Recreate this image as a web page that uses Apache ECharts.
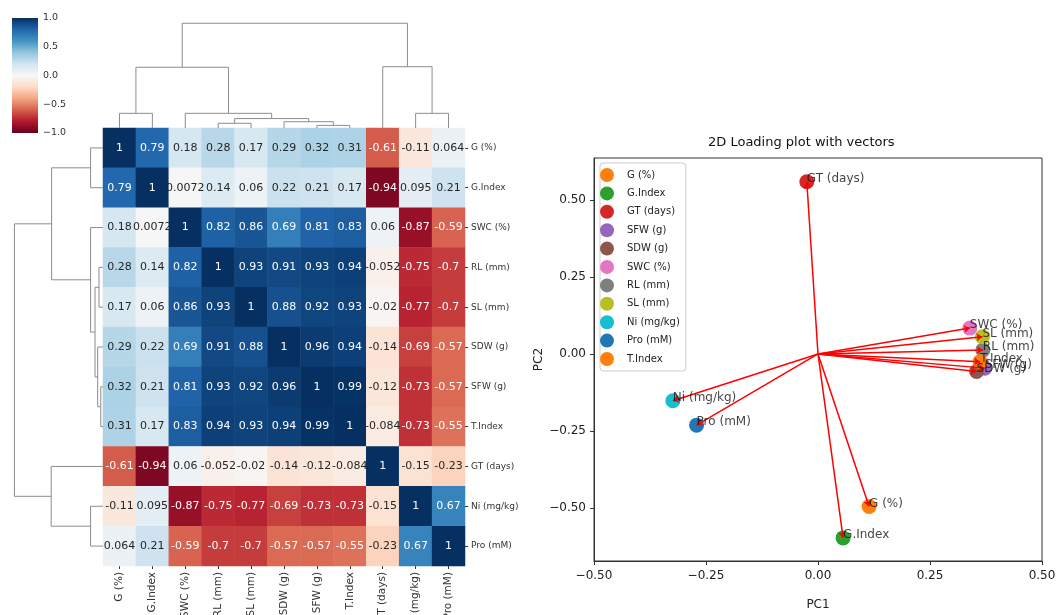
<!DOCTYPE html>
<html>
<head>
<meta charset="utf-8">
<script src="https://cdn.jsdelivr.net/npm/echarts@6/dist/echarts.min.js"></script>
<style>
html, body { margin: 0; padding: 0; background: #fff; }
#main { width: 1057px; height: 615px; }
</style>
</head>
<body>
<div id="main"></div>
<script>
// clustermap order of the variables
var labels = ['G (%)', 'G.Index', 'SWC (%)', 'RL (mm)', 'SL (mm)', 'SDW (g)', 'SFW (g)', 'T.Index', 'GT (days)', 'Ni (mg/kg)', 'Pro (mM)'];

var corr = [
  [1, 0.79, 0.18, 0.28, 0.17, 0.29, 0.32, 0.31, -0.61, -0.11, 0.064],
  [0.79, 1, 0.0072, 0.14, 0.06, 0.22, 0.21, 0.17, -0.94, 0.095, 0.21],
  [0.18, 0.0072, 1, 0.82, 0.86, 0.69, 0.81, 0.83, 0.06, -0.87, -0.59],
  [0.28, 0.14, 0.82, 1, 0.93, 0.91, 0.93, 0.94, -0.052, -0.75, -0.7],
  [0.17, 0.06, 0.86, 0.93, 1, 0.88, 0.92, 0.93, -0.02, -0.77, -0.7],
  [0.29, 0.22, 0.69, 0.91, 0.88, 1, 0.96, 0.94, -0.14, -0.69, -0.57],
  [0.32, 0.21, 0.81, 0.93, 0.92, 0.96, 1, 0.99, -0.12, -0.73, -0.57],
  [0.31, 0.17, 0.83, 0.94, 0.93, 0.94, 0.99, 1, -0.084, -0.73, -0.55],
  [-0.61, -0.94, 0.06, -0.052, -0.02, -0.14, -0.12, -0.084, 1, -0.15, -0.23],
  [-0.11, 0.095, -0.87, -0.75, -0.77, -0.69, -0.73, -0.73, -0.15, 1, 0.67],
  [0.064, 0.21, -0.59, -0.7, -0.7, -0.57, -0.57, -0.55, -0.23, 0.67, 1]
];

// linkage: [child a, child b, height]; leaves 0..10, new clusters numbered from 11
var linkage = [
  [6, 7, 0.025],
  [5, 11, 0.06],
  [3, 4, 0.045],
  [13, 12, 0.09],
  [2, 14, 0.14],
  [0, 1, 0.14],
  [9, 10, 0.14],
  [16, 15, 0.58],
  [8, 17, 0.585],
  [18, 19, 1.0]
];

var colorbarTicks = [-1, -0.5, 0, 0.5, 1];

// PCA loadings
var pcaNames = ['G (%)', 'G.Index', 'GT (days)', 'SFW (g)', 'SDW (g)', 'SWC (%)', 'RL (mm)', 'SL (mm)', 'Ni (mg/kg)', 'Pro (mM)', 'T.Index'];
var pc1 = [0.114, 0.056, -0.025, 0.372, 0.354, 0.339, 0.368, 0.367, -0.324, -0.271, 0.362];
var pc2 = [-0.495, -0.597, 0.559, -0.046, -0.057, 0.084, 0.013, 0.056, -0.152, -0.231, -0.025];
var pcaTicks = [-0.5, -0.25, 0, 0.25, 0.5];

var rdbu = ['#67001f', '#b2182b', '#d6604d', '#f4a582', '#fddbc7', '#f7f7f7', '#d1e5f0', '#92c5de', '#4393c3', '#2166ac', '#053061'];
var tab10 = ['#ff7f0e', '#2ca02c', '#d62728', '#9467bd', '#8c564b', '#e377c2', '#7f7f7f', '#bcbd22', '#17becf', '#1f77b4', '#ff7f0e'];

function minus(s) { return String(s).replace('-', '\u2212'); }

var heatData = [];
for (var r = 0; r < corr.length; r++) {
  for (var c = 0; c < corr[r].length; c++) {
    var v = corr[r][c];
    heatData.push({ value: [c, r, v], label: { color: Math.abs(v) > 0.45 ? '#fff' : '#262626' } });
  }
}

function dendro(side) {
  var pos = [], hgt = [], out = [];
  for (var i = 0; i < labels.length; i++) { pos.push(i + 0.5); hgt.push(0); }
  linkage.forEach(function (m) {
    var a = m[0], b = m[1], h = m[2];
    var pts = [[pos[a], hgt[a]], [pos[a], h], [pos[b], h], [pos[b], hgt[b]]];
    if (side === 'left') pts = pts.map(function (p) { return [p[1], p[0]]; });
    out.push({ coords: pts });
    pos.push((pos[a] + pos[b]) / 2);
    hgt.push(h);
  });
  return out;
}

var grad = { type: 'linear', x: 0, y: 0, x2: 0, y2: 1, colorStops: rdbu.slice().reverse().map(function (col, i) { return { offset: i / 10, color: col }; }) };

var series = [
  {
    type: 'heatmap', xAxisIndex: 0, yAxisIndex: 0, data: heatData,
    label: { show: true, fontSize: 11, formatter: function (p) { return String(p.value[2]); } },
    emphasis: { disabled: true }
  },
  {
    type: 'lines', coordinateSystem: 'cartesian2d', xAxisIndex: 1, yAxisIndex: 1, polyline: true,
    data: dendro('top'), lineStyle: { color: '#8c8c8c', width: 1, opacity: 1 }, silent: true
  },
  {
    type: 'lines', coordinateSystem: 'cartesian2d', xAxisIndex: 2, yAxisIndex: 2, polyline: true,
    data: dendro('left'), lineStyle: { color: '#8c8c8c', width: 1, opacity: 1 }, silent: true
  },
  {
    type: 'bar', xAxisIndex: 3, yAxisIndex: 3, data: [1], barWidth: '100%',
    itemStyle: { color: grad }, silent: true
  },
  {
    type: 'lines', coordinateSystem: 'cartesian2d', xAxisIndex: 4, yAxisIndex: 5, z: 4,
    symbol: ['none', 'arrow'], symbolSize: 6,
    data: pcaNames.map(function (n, i) { return { coords: [[0, 0], [pc1[i], pc2[i]]] }; }),
    lineStyle: { color: '#ff0000', width: 1.5, opacity: 1 }, silent: true
  }
];

pcaNames.forEach(function (n, i) {
  series.push({
    name: n, type: 'scatter', xAxisIndex: 4, yAxisIndex: 5, z: 3,
    data: [[pc1[i], pc2[i]]], symbolSize: 15,
    itemStyle: { color: tab10[i], opacity: 1 }
  });
});

series.push({
  name: 'names', type: 'scatter', xAxisIndex: 4, yAxisIndex: 5, z: 5, symbolSize: 2,
  itemStyle: { color: 'rgba(0,0,0,0)' }, silent: true,
  data: pcaNames.map(function (n, i) { return { value: [pc1[i], pc2[i]], name: n }; }),
  label: { show: true, formatter: '{b}', position: [1, 1], align: 'left', verticalAlign: 'bottom', offset: [0, 3], color: '#111', fontSize: 12 }
});

var hidden = { show: false };

var option = {
  animation: false,
  backgroundColor: '#fff',
  textStyle: { fontFamily: 'DejaVu Sans' },
  graphic: [{
    type: 'text', left: 818 - 110, top: 136,
    style: { text: '2D Loading plot with vectors', fontSize: 13, fill: '#111', fontFamily: 'DejaVu Sans', width: 220, align: 'center' }
  }],
  legend: {
    orient: 'vertical', left: 600, top: 163, data: pcaNames,
    icon: 'circle', itemWidth: 30, itemHeight: 14, itemGap: 4.4,
    padding: [5, 6, 5, 0], borderColor: '#ccc', borderWidth: 1, borderRadius: 3,
    textStyle: { fontSize: 10, color: '#222' }, selectedMode: false
  },
  visualMap: [{
    type: 'continuous', min: -1, max: 1, seriesIndex: 0, show: false,
    inRange: { color: rdbu }
  }],
  grid: [
    { left: 103, top: 128, width: 362, height: 438, outerBoundsMode: 'none' },
    { left: 103, top: 18, width: 362, height: 110, outerBoundsMode: 'none' },
    { left: 10, top: 128, width: 93, height: 438, outerBoundsMode: 'none' },
    { left: 12, top: 18, width: 26, height: 115, outerBoundsMode: 'none' },
    { left: 594, top: 158, width: 448, height: 403, outerBoundsMode: 'none', show: true, borderColor: '#333', borderWidth: 1 }
  ],
  xAxis: [
    {
      type: 'category', gridIndex: 0, data: labels, position: 'bottom',
      axisLine: { show: false }, splitLine: hidden,
      axisTick: { show: true, alignWithLabel: true, length: 3, lineStyle: { color: '#333' } },
      axisLabel: { rotate: 90, fontSize: 10.5, color: '#333', margin: 6, interval: 0 }
    },
    { type: 'value', gridIndex: 1, min: 0, max: 11, show: false },
    { type: 'value', gridIndex: 2, min: 0, max: 1.05, inverse: true, show: false },
    { type: 'category', gridIndex: 3, data: ['c'], show: false },
    {
      type: 'value', gridIndex: 4, min: -0.5, max: 0.5, interval: 0.25,
      name: 'PC1', nameLocation: 'middle', nameGap: 38, nameTextStyle: { fontSize: 12, color: '#222' },
      axisLine: { onZero: false, lineStyle: { color: '#333' } }, splitLine: hidden,
      axisTick: { length: 4, lineStyle: { color: '#333' } },
      axisLabel: { fontSize: 12, color: '#222', margin: 9, formatter: function (v) { return minus(v.toFixed(2)); } }
    }
  ],
  yAxis: [
    {
      type: 'category', gridIndex: 0, data: labels, inverse: true, position: 'right',
      axisLine: { show: false }, splitLine: hidden,
      axisTick: { show: true, alignWithLabel: true, length: 3, lineStyle: { color: '#333' } },
      axisLabel: { fontSize: 9, color: '#333', margin: 6, interval: 0 }
    },
    { type: 'value', gridIndex: 1, min: 0, max: 1.05, show: false },
    { type: 'value', gridIndex: 2, min: 0, max: 11, inverse: true, show: false },
    { type: 'value', gridIndex: 3, min: 0, max: 1, show: false },
    {
      type: 'value', gridIndex: 3, min: -1, max: 1, position: 'right',
      axisLine: { show: false }, splitLine: hidden,
      axisTick: { length: 3, lineStyle: { color: '#333' }, customValues: colorbarTicks },
      axisLabel: { fontSize: 9.5, color: '#333', margin: 5, customValues: colorbarTicks, formatter: function (v) { return minus(v.toFixed(1)); } }
    },
    {
      type: 'value', gridIndex: 4, min: -0.672, max: 0.636,
      name: 'PC2', nameLocation: 'middle', nameGap: 46, nameRotate: 90, nameTextStyle: { fontSize: 12, color: '#222' },
      axisLine: { onZero: false, lineStyle: { color: '#333' } }, splitLine: hidden,
      axisTick: { length: 4, lineStyle: { color: '#333' }, customValues: pcaTicks },
      axisLabel: { fontSize: 12, color: '#222', margin: 8, customValues: pcaTicks, formatter: function (v) { return minus(v.toFixed(2)); } }
    }
  ],
  series: series
};

var chart = echarts.init(document.getElementById('main'));
chart.setOption(option);
</script>
</body>
</html>
